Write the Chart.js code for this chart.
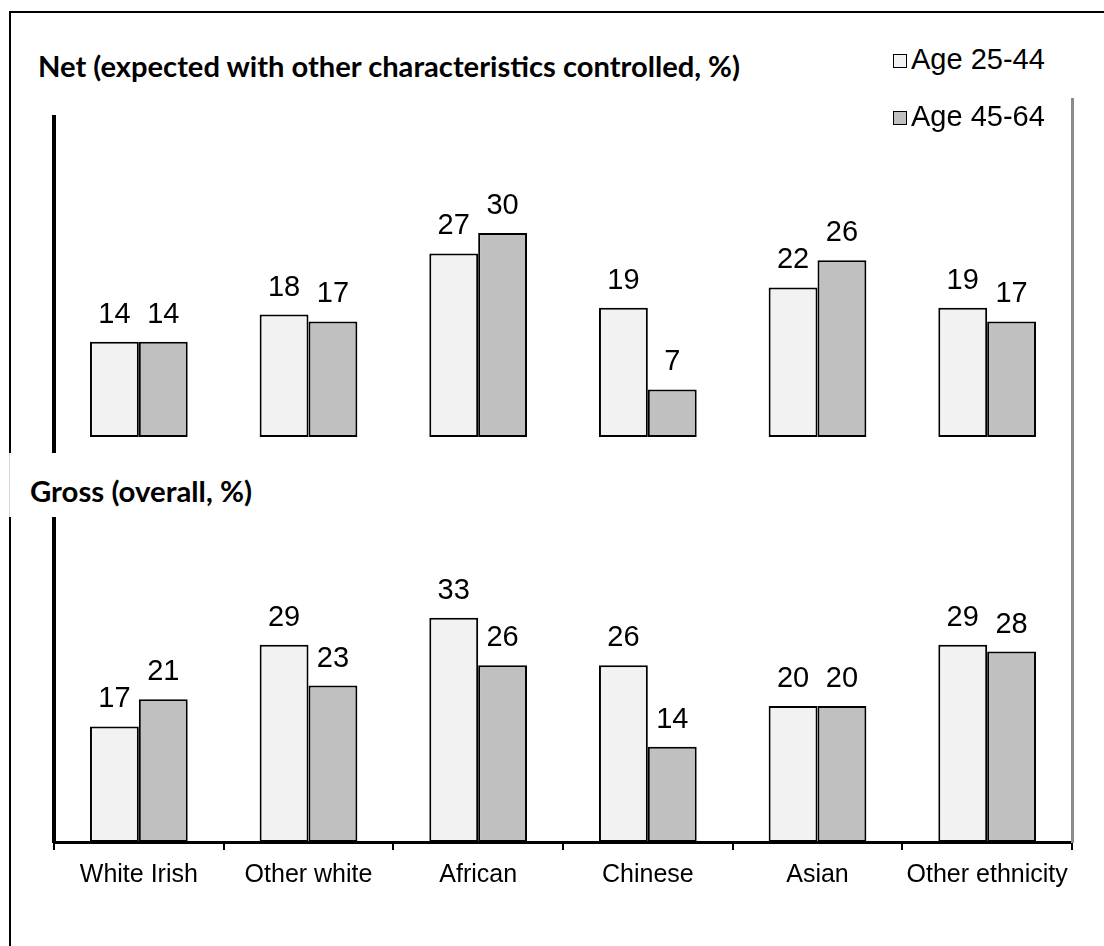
<!DOCTYPE html>
<html>
<head>
<meta charset="utf-8">
<script src="https://cdn.jsdelivr.net/npm/chart.js@4.4.1/dist/chart.umd.min.js"></script>
<style>
  html, body { margin: 0; padding: 0; background: #fff; }
  body { width: 1104px; height: 946px; position: relative; overflow: hidden;
         font-family: "Liberation Sans", Arial, sans-serif; color: #000; }
  .frame { position: absolute; left: 9px; top: 11px; width: 1200px; height: 1000px;
           border-left: 2px solid #000; border-top: 2px solid #000; }
  .panel-title { position: absolute; font-family: Lato, "Open Sans", sans-serif; font-weight: 700;
                 font-size: 29px; line-height: 29px; white-space: nowrap; transform-origin: 0 0; }
  .gross-box { position: absolute; left: 9px; top: 453px; width: 250px; height: 64px;
               background: #fff; border-left: 1px solid #d9d9d9; }
  .right-rule { position: absolute; left: 1071px; top: 98px; width: 3px; height: 745px; background: #8c8c8c; }
  .legend-item { position: absolute; left: 893px; height: 30px; font-size: 29px; line-height: 29px; white-space: nowrap; }
  .legend-item i { display: inline-block; width: 12px; height: 12px; border: 1.5px solid #000;
                   margin-right: 4px; vertical-align: 1px; }
  .wrap { position: absolute; left: 0; }
</style>
</head>
<body>
<div class="frame"></div>
<div class="wrap" style="top:100px"><canvas id="netChart" width="1104" height="370"></canvas></div>
<div class="wrap" style="top:500px"><canvas id="grossChart" width="1104" height="420"></canvas></div>
<div class="gross-box"></div>
<div class="right-rule"></div>
<div class="panel-title" id="netTitle" style="left:38px;top:51px">Net (expected with other characteristics controlled, %)</div>
<div class="panel-title" id="grossTitle" style="left:30px;top:476px">Gross (overall, %)</div>
<div id="legend"></div>

<script>
var categories = ["White Irish", "Other white", "African", "Chinese", "Asian", "Other ethnicity"];
var seriesLabels = ["Age 25-44", "Age 45-64"];
var seriesColors = ["#f2f2f2", "#c0c0c0"];
var netYoung = [14, 18, 27, 19, 22, 19];
var netOld = [14, 17, 30, 7, 26, 17];
var grossYoung = [17, 29, 33, 26, 20, 29];
var grossOld = [21, 23, 26, 14, 20, 28];

(function () {
  // squeeze the bold titles to the width they have in the original
  function fit(id, w) {
    var el = document.getElementById(id);
    var cur = el.getBoundingClientRect().width;
    el.style.transform = "scaleX(" + (w / cur) + ")";
  }
  fit("netTitle", 702);
  fit("grossTitle", 222);

  var legend = document.getElementById("legend");
  seriesLabels.forEach(function (lab, i) {
    var d = document.createElement("div");
    d.className = "legend-item";
    d.style.top = (45 + i * 57) + "px";
    d.innerHTML = '<i style="background:' + seriesColors[i] + '"></i>' + lab;
    legend.appendChild(d);
  });

  var valueLabels = {
    id: "valueLabels",
    afterDatasetsDraw: function (chart) {
      var ctx = chart.ctx;
      ctx.save();
      ctx.font = '29px "Liberation Sans", Arial, sans-serif';
      ctx.fillStyle = "#000";
      ctx.textAlign = "center";
      ctx.textBaseline = "alphabetic";
      chart.data.datasets.forEach(function (ds, i) {
        chart.getDatasetMeta(i).data.forEach(function (bar, j) {
          ctx.fillText(String(ds.data[j]), bar.x, bar.y - 19);
        });
      });
      ctx.restore();
    }
  };

  function datasets(a, b) {
    return [a, b].map(function (vals, i) {
      return {
        label: seriesLabels[i],
        data: vals,
        backgroundColor: seriesColors[i],
        borderColor: "#000",
        borderWidth: 2,
        borderSkipped: false,
        barPercentage: 1,
        categoryPercentage: 0.576
      };
    });
  }

  function yAxis(min, max) {
    return {
      min: min,
      max: max,
      ticks: { display: false },
      grid: { display: false },
      border: { display: true, color: "#000", width: 4 },
      afterFit: function (s) { s.width = 0; }
    };
  }

  new Chart(document.getElementById("netChart"), {
    type: "bar",
    data: { labels: categories, datasets: datasets(netYoung, netOld) },
    options: {
      responsive: false,
      animation: false,
      layout: { padding: { left: 54, right: 32, top: 17, bottom: 17 } },
      scales: {
        x: { display: false },
        y: yAxis(-2.35, 47.06)
      },
      plugins: { legend: { display: false }, tooltip: { enabled: false } }
    },
    plugins: [valueLabels]
  });

  new Chart(document.getElementById("grossChart"), {
    type: "bar",
    data: { labels: categories, datasets: datasets(grossYoung, grossOld) },
    options: {
      responsive: false,
      animation: false,
      layout: { padding: { left: 54, right: 32, top: 17, bottom: 18 } },
      scales: {
        x: {
          grid: { display: true, drawOnChartArea: false, drawTicks: true, tickLength: 8,
                  color: "#000", lineWidth: 2, offset: true },
          border: { display: true, color: "#000", width: 3 },
          ticks: { color: "#000", padding: 10, maxRotation: 0, autoSkip: false,
                   font: { family: '"Liberation Sans", Arial, sans-serif', size: 25 } },
          afterFit: function (s) { s.height = 60; }
        },
        y: yAxis(0, 47.8)
      },
      plugins: { legend: { display: false }, tooltip: { enabled: false } }
    },
    plugins: [valueLabels]
  });
})();
</script>
</body>
</html>
